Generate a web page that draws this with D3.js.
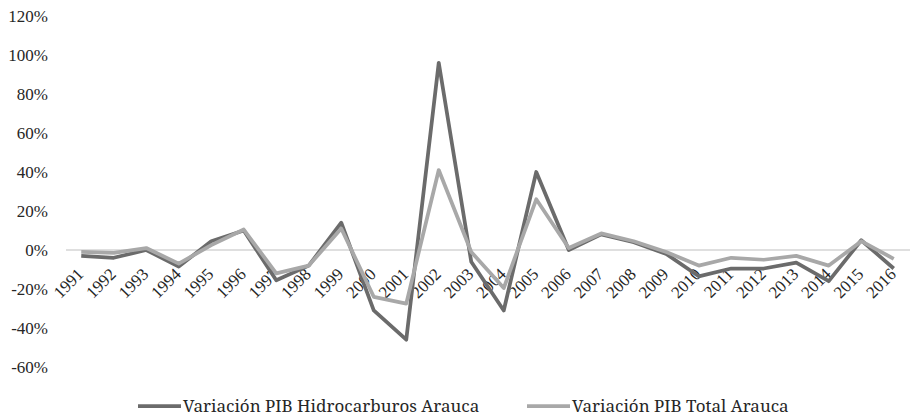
<!DOCTYPE html>
<html>
<head>
<meta charset="utf-8">
<script src="https://cdn.jsdelivr.net/npm/d3@7"></script>
<style>
  body { margin: 0; background: #fff; }
</style>
</head>
<body>
<svg id="chart" width="910" height="417"></svg>
<script>
"use strict";

// === Data ===
let years = ["1991", "1992", "1993", "1994", "1995", "1996", "1997", "1998", "1999", "2000",
  "2001", "2002", "2003", "2004", "2005", "2006", "2007", "2008", "2009", "2010",
  "2011", "2012", "2013", "2014", "2015", "2016"];

let hidrocarburos = [-3, -4, 0, -8.5, 4.5, 10, -15.5, -8, 14, -31,
  -46, 96, -6, -31, 40, 0, 8, 4, -2, -13.5,
  -9.5, -9.5, -6.5, -16, 5, -9.5];

let total = [-1, -1.5, 1, -7, 2.5, 10.5, -12, -8, 11, -24,
  -27.5, 41, -1, -19.5, 26, 1, 8.5, 4.5, -1, -8,
  -4, -5, -3, -8, 4.5, -4.5];

let yTicks = [-60, -40, -20, 0, 20, 40, 60, 80, 100, 120];

let series = [
  { name: "Variación PIB Hidrocarburos Arauca", values: hidrocarburos, color: "#6b6b6b" },
  { name: "Variación PIB Total Arauca", values: total, color: "#a8a8a8" }
];

const AXIS_FONT = "Liberation Serif";
const LEGEND_FONT = "Noto Serif";

// === Scales ===
let svg = d3.select("#chart");
let x = d3.scalePoint().domain(years).range([65, 910]).padding(0.5);
let y = d3.scaleLinear().domain([-60, 120]).range([367, 16]);

// === Y axis labels (no line) ===
svg.append("g")
  .selectAll("text")
  .data(yTicks)
  .join("text")
  .attr("x", 48)
  .attr("y", d => y(d))
  .attr("dy", "0.35em")
  .attr("text-anchor", "end")
  .attr("fill", "#262626")
  .style("font-family", AXIS_FONT)
  .style("font-size", "17px")
  .text(d => d + "%");

// === Zero line ===
svg.append("line")
  .attr("x1", 66).attr("x2", 910)
  .attr("y1", y(0)).attr("y2", y(0))
  .attr("stroke", "#bfbfbf")
  .attr("stroke-width", 1);

// === X labels, rotated ===
svg.append("g")
  .selectAll("text")
  .data(years)
  .join("text")
  .attr("transform", d => `translate(${x(d) - 1},${y(0) + 21}) rotate(-45)`)
  .attr("text-anchor", "end")
  .attr("dy", "0.35em")
  .attr("fill", "#262626")
  .style("font-family", AXIS_FONT)
  .style("font-size", "17px")
  .text(d => d);

// === Lines ===
let line = d3.line()
  .x((d, i) => x(years[i]))
  .y(d => y(d));

series.forEach(s => {
  svg.append("path")
    .datum(s.values)
    .attr("d", line)
    .attr("fill", "none")
    .attr("stroke", s.color)
    .attr("stroke-width", 3.75)
    .attr("stroke-linejoin", "round");
});

// === Legend ===
let legendX = [138, 527];
let legend = svg.append("g");
series.forEach((s, i) => {
  legend.append("line")
    .attr("x1", legendX[i]).attr("x2", legendX[i] + 43)
    .attr("y1", 406).attr("y2", 406)
    .attr("stroke", s.color)
    .attr("stroke-width", 3.75);
  legend.append("text")
    .attr("x", legendX[i] + 45)
    .attr("y", 406)
    .attr("dy", "0.35em")
    .attr("fill", "#262626")
    .style("font-family", LEGEND_FONT)
    .style("font-size", "17px")
    .text(s.name);
});
</script>
</body>
</html>
